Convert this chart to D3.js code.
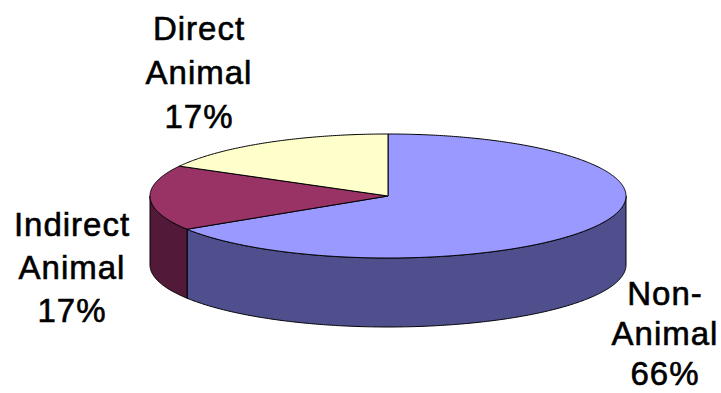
<!DOCTYPE html>
<html>
<head>
<meta charset="utf-8">
<script src="https://cdn.jsdelivr.net/npm/d3@7"></script>
<style>
  html, body { margin: 0; padding: 0; background: #fff; }
  svg { display: block; }
  text { font-family: "Liberation Sans", Arial, sans-serif; fill: #000; }
</style>
</head>
<body>
<svg id="chart" width="721" height="393"></svg>
<script>
// Share of each source, drawn clockwise from 12 o'clock
const categories = ["Non-Animal", "Indirect Animal", "Direct Animal"];
const shares = [66, 17, 17];
const labelLines = [["Non-", "Animal", "66%"], ["Indirect", "Animal", "17%"], ["Direct", "Animal", "17%"]];
const topColors = ["#9999ff", "#993366", "#ffffcc"];
const sideColors = ["#4f4f8e", "#521a38", "#8a8a6e"];

const W = 721, H = 393;
const cx = 388, cy = 196, rx = 238, ry = 62, depth = 69;

const svg = d3.select("#chart");

const pie = d3.pie().sort(null).value(d => d);
const arcs = pie(shares);

// Project a pie angle (0 = top, clockwise) onto the tilted ellipse
const px = a => cx + rx * Math.sin(a);
const py = a => cy - ry * Math.cos(a);

function rimPoints(a0, a1, dy) {
  const n = Math.max(2, Math.ceil(Math.abs(a1 - a0) / (Math.PI / 360)));
  return d3.range(n + 1).map(i => {
    const a = a0 + (a1 - a0) * i / n;
    return [px(a), py(a) + dy];
  });
}

const line = d3.line();

// Side walls: only the front half (from 3 o'clock to 9 o'clock) is visible
const frontStart = Math.PI / 2, frontEnd = 3 * Math.PI / 2;
const sides = svg.append("g");
arcs.forEach((d, i) => {
  const a0 = Math.max(d.startAngle, frontStart);
  const a1 = Math.min(d.endAngle, frontEnd);
  if (a1 <= a0) return;
  const pts = rimPoints(a0, a1, 0).concat(rimPoints(a1, a0, depth));
  sides.append("path")
    .attr("d", line(pts) + "Z")
    .attr("fill", sideColors[i])
    .attr("stroke", "#000")
    .attr("stroke-width", 1)
    .attr("stroke-linejoin", "round");
});

// Top faces
const tops = svg.append("g");
arcs.forEach((d, i) => {
  const pts = [[cx, cy]].concat(rimPoints(d.startAngle, d.endAngle, 0));
  tops.append("path")
    .attr("d", line(pts) + "Z")
    .attr("fill", topColors[i])
    .attr("stroke", "#000")
    .attr("stroke-width", 1)
    .attr("stroke-linejoin", "round");
});

// Labels, three lines each: [x, first baseline, line gap]
const labelPos = [[665, 305, 40], [72, 236, 43], [199, 40, 44]];
const labels = svg.append("g");
labelLines.forEach((lines, i) => {
  const t = labels.append("text")
    .attr("text-anchor", "middle")
    .attr("font-size", 33)
    .attr("letter-spacing", 1)
    .attr("stroke", "#000")
    .attr("stroke-width", 0.6);
  lines.forEach((s, j) => {
    t.append("tspan")
      .attr("x", labelPos[i][0])
      .attr("y", labelPos[i][1] + j * labelPos[i][2])
      .text(s);
  });
});
</script>
</body>
</html>
